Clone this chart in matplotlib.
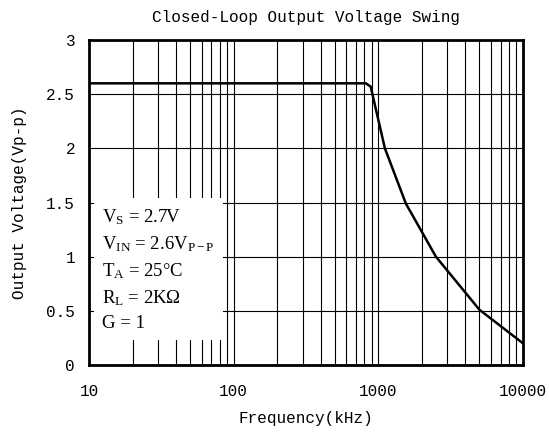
import numpy as np
import matplotlib.pyplot as plt
from matplotlib.ticker import FixedLocator, NullFormatter

plt.rcParams['font.family'] = ['Liberation Mono', 'DejaVu Sans']
plt.rcParams['mathtext.fontset'] = 'custom'
plt.rcParams['mathtext.rm'] = 'Liberation Serif'
plt.rcParams['mathtext.it'] = 'Liberation Serif'

# curve
freq = [10, 100, 820, 885, 1110, 1550, 2500, 5000, 10000]
vout = [2.6, 2.6, 2.6, 2.57, 2.0, 1.49, 1.0, 0.51, 0.2]

xticks = [10, 100, 1000, 10000]
xlabels = ['10', '100', '1000', '10000']
yticks = [0, 0.5, 1, 1.5, 2, 2.5, 3]
ylabels = ['0', '0.5', '1', '1.5', '2', '2.5', '3']

cond = ('V$_{\\mathrm{S}}$ = 2.7V\n'
        'V$_{\\mathrm{IN}}$ = 2.6V$_{\\mathrm{P-P}}$\n'
        'T$_{\\mathrm{A}}$ = 25\u00b0C\n'
        'R$_{\\mathrm{L}}$ = 2K\u03a9\n'
        'G = 1')

fig = plt.figure(figsize=(5.49, 4.32), dpi=100)
ax = fig.add_axes([89/549, 1-365/432, 434/549, 325/432])

ax.plot(freq, vout, color='black', lw=1.8, zorder=3)
ax.set_xscale('log')
ax.set_xlim(10, 10000)
ax.set_ylim(0, 3)

ax.xaxis.set_major_locator(FixedLocator(xticks))
ax.set_xticklabels(xlabels)
minors = [m * 10**d for d in range(1, 4) for m in range(2, 10)]
ax.xaxis.set_minor_locator(FixedLocator(minors))
ax.xaxis.set_minor_formatter(NullFormatter())
ax.set_yticks(yticks)
ax.set_yticklabels(ylabels)

ax.grid(True, which='both', axis='x', color='black', lw=0.8)
ax.grid(True, which='major', axis='y', color='black', lw=0.8)
ax.tick_params(which='both', length=0, labelsize=11.5)
ax.tick_params(axis='x', pad=14)
ax.tick_params(axis='y', pad=10)
for s in ax.spines.values():
    s.set_linewidth(2)

ax.set_title('Closed-Loop Output Voltage Swing', fontsize=11.5, pad=13)
ax.set_xlabel('Frequency(kHz)', fontsize=11.5, labelpad=8)
ax.set_ylabel('Output Voltage(Vp-p)', fontsize=11.5, labelpad=14)

ax.text(12.3, 1.46, cond, fontsize=13.5, va='top', ha='left',
        family=['Liberation Serif', 'DejaVu Sans'], linespacing=1.5,
        bbox=dict(facecolor='white', edgecolor='none', pad=6), zorder=4)

fig.savefig('out.png', dpi=100)
